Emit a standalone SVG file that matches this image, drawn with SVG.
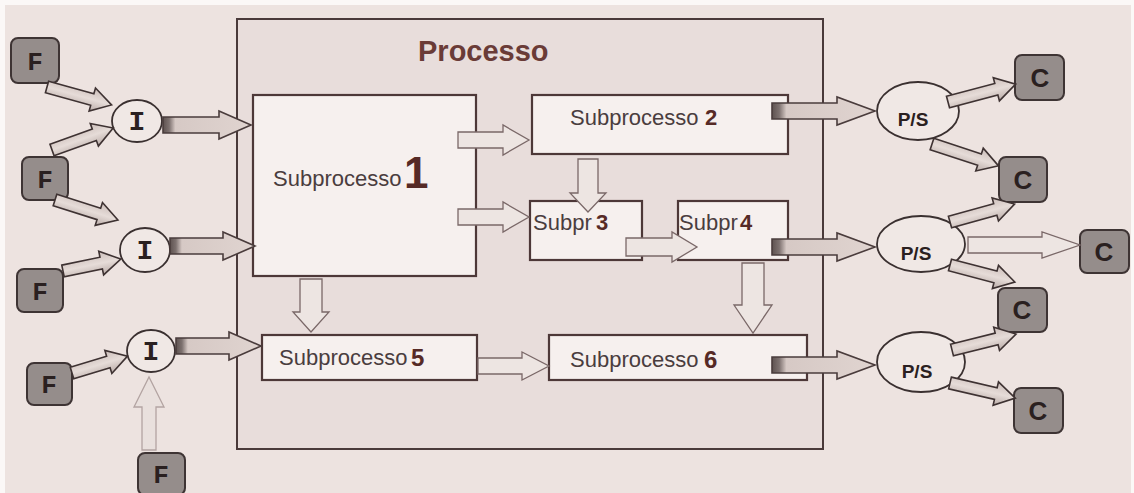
<svg xmlns="http://www.w3.org/2000/svg" width="1134" height="493" viewBox="0 0 1134 493">
<defs>
<linearGradient id="gTail" x1="0" y1="0" x2="1" y2="0">
<stop offset="0" stop-color="#5e5250"/>
<stop offset="0.07" stop-color="#7d716f"/>
<stop offset="0.14" stop-color="#d6c9c5"/>
<stop offset="1" stop-color="#e0d4d0"/>
</linearGradient>
<linearGradient id="gExt" x1="0" y1="0" x2="0" y2="1">
<stop offset="0" stop-color="#cbbdb9"/>
<stop offset="0.5" stop-color="#e6dcd8"/>
<stop offset="1" stop-color="#b9aba7"/>
</linearGradient>
</defs>
<style>
.bg{fill:#ede3e0}
.proc{fill:#e8dddb;stroke:#4a3a3a;stroke-width:2}
.box{fill:#f6f0ee;stroke:#4d3838;stroke-width:2.2}
.lbl{font-family:"Liberation Sans",Arial,sans-serif;font-size:22px;fill:#4a3d3e}
.num{font-family:"Liberation Sans",Arial,sans-serif;font-weight:bold;fill:#562a26}
.title{font-family:"Liberation Sans",Arial,sans-serif;font-weight:bold;font-size:29px;fill:#6a3b37}
.sq{fill:#958d8b;stroke:#3e3434;stroke-width:2}
.sqt{font-family:"Liberation Mono","Courier New",monospace;font-weight:bold;font-size:26px;fill:#2a2020;text-anchor:middle}
.ct{font-family:"Liberation Sans",Arial,sans-serif;font-weight:bold;font-size:26px;fill:#2a2020;text-anchor:middle}
.circ{fill:#f0e8e5;stroke:#3a3030;stroke-width:1.8}
.it{font-family:"Liberation Mono","Courier New",monospace;font-weight:bold;font-size:28px;fill:#2a2020;text-anchor:middle}
.pst{font-family:"Liberation Sans",Arial,sans-serif;font-weight:bold;font-size:19px;fill:#2a2020;text-anchor:middle}
.thick{fill:url(#gTail);stroke:#4a3c3c;stroke-width:1.6;stroke-linejoin:miter}
.light{fill:#ede5e2;stroke:#7a6868;stroke-width:1.3}
.faint{fill:#e9e0dd;stroke:#b3a4a2;stroke-width:1.3}
.ext{fill:url(#gExt);stroke:#3e3232;stroke-width:1.6}
</style>
<rect class="bg" x="0" y="0" width="1134" height="493"/>
<rect x="0" y="0" width="1134" height="5" fill="#fbf8f7"/>
<rect x="0" y="0" width="5" height="493" fill="#fbf8f7"/>
<rect x="1131" y="0" width="3" height="493" fill="#fbf8f7"/>

<g id="processo">
<rect class="proc" x="237" y="19" width="586" height="430"/>
<text class="title" x="418" y="61">Processo</text>
</g>

<g id="sub1">
<rect class="box" x="253" y="95" width="223" height="181"/>
<text class="lbl" x="273" y="186">Subprocesso</text>
<text class="num" x="404" y="188" font-size="44">1</text>
</g>
<g id="sub2">
<rect class="box" x="532" y="95" width="256" height="59"/>
<text class="lbl" x="570" y="125">Subprocesso</text>
<text class="num" x="705" y="125" font-size="22">2</text>
</g>
<g id="sub3">
<rect class="box" x="530" y="201" width="112" height="59"/>
<text class="lbl" x="533" y="230">Subpr</text>
<text class="num" x="596" y="230" font-size="22">3</text>
</g>
<g id="sub4">
<rect class="box" x="678" y="201" width="110" height="59"/>
<text class="lbl" x="679" y="230">Subpr</text>
<text class="num" x="740" y="230" font-size="22">4</text>
</g>
<g id="sub5">
<rect class="box" x="262" y="335" width="215" height="45"/>
<text class="lbl" x="279" y="365">Subprocesso</text>
<text class="num" x="411" y="366" font-size="24">5</text>
</g>
<g id="sub6">
<rect class="box" x="549" y="335" width="258" height="45"/>
<text class="lbl" x="570" y="367">Subprocesso</text>
<text class="num" x="704" y="368" font-size="24" fill="#2a1a1a">6</text>
</g>

<g id="f1"><rect class="sq" x="11" y="38" width="48" height="45" rx="7"/><text class="sqt" x="35" y="70">F</text></g>
<g id="f2"><rect class="sq" x="22" y="157" width="46" height="43" rx="7"/><text class="sqt" x="45" y="188">F</text></g>
<g id="f3"><rect class="sq" x="17" y="269" width="46" height="43" rx="7"/><text class="sqt" x="40" y="300">F</text></g>
<g id="f4"><rect class="sq" x="27" y="363" width="45" height="42" rx="7"/><text class="sqt" x="49" y="393">F</text></g>
<g id="f5"><rect class="sq" x="138" y="453" width="47" height="42" rx="7"/><text class="sqt" x="161" y="483">F</text></g>

<g id="i1"><ellipse class="circ" cx="137" cy="121" rx="25" ry="21"/><text class="it" x="137" y="130">I</text></g>
<g id="i2"><ellipse class="circ" cx="145" cy="250" rx="25" ry="22"/><text class="it" x="145" y="259">I</text></g>
<g id="i3"><ellipse class="circ" cx="151" cy="351" rx="24" ry="21"/><text class="it" x="151" y="360">I</text></g>

<g id="ps1"><ellipse class="circ" cx="918" cy="111" rx="41" ry="29"/><text class="pst" x="913" y="126">P/S</text></g>
<g id="ps2"><ellipse class="circ" cx="921" cy="244" rx="44" ry="28"/><text class="pst" x="916" y="260">P/S</text></g>
<g id="ps3"><ellipse class="circ" cx="921" cy="362" rx="44" ry="30"/><text class="pst" x="917" y="378">P/S</text></g>

<g id="c1"><rect class="sq" x="1015" y="55" width="49" height="45" rx="7"/><text class="ct" x="1040" y="87">C</text></g>
<g id="c2"><rect class="sq" x="999" y="157" width="48" height="45" rx="7"/><text class="ct" x="1023" y="189">C</text></g>
<g id="c3"><rect class="sq" x="1080" y="230" width="49" height="43" rx="7"/><text class="ct" x="1104" y="261">C</text></g>
<g id="c4"><rect class="sq" x="998" y="288" width="49" height="44" rx="7"/><text class="ct" x="1022" y="319">C</text></g>
<g id="c5"><rect class="sq" x="1014" y="388" width="49" height="45" rx="7"/><text class="ct" x="1038" y="420">C</text></g>

<g id="connectors">
<polygon class="ext" points="0,-6 47,-6 47,-12 67,0 47,12 47,6 0,6" transform="translate(47,87) rotate(15.5)"/>
<polygon class="ext" points="0,-6 45,-6 45,-12 65,0 45,12 45,6 0,6" transform="translate(52,150) rotate(-19.8)"/>
<polygon class="ext" points="0,-6 46,-6 46,-12 66,0 46,12 46,6 0,6" transform="translate(55,200) rotate(17.6)"/>
<polygon class="ext" points="0,-6 39,-6 39,-12 59,0 39,12 39,6 0,6" transform="translate(63,271) rotate(-11.7)"/>
<polygon class="ext" points="0,-6 38,-6 38,-12 58,0 38,12 38,6 0,6" transform="translate(72,373) rotate(-16.9)"/>
<polygon class="faint" points="0,-7 43,-7 43,-15 73,0 43,15 43,7 0,7" transform="translate(149,450) rotate(-90)"/>

<polygon class="thick" points="0,-8 56,-8 56,-14 88,0 56,14 56,8 0,8" transform="translate(163,125)"/>
<polygon class="thick" points="0,-8 53,-8 53,-14 85,0 53,14 53,8 0,8" transform="translate(170,246)"/>
<polygon class="thick" points="0,-8 53,-8 53,-14 85,0 53,14 53,8 0,8" transform="translate(176,346)"/>

<polygon class="light" points="0,-8 45,-8 45,-15 71,0 45,15 45,8 0,8" transform="translate(458,140)"/>
<polygon class="light" points="0,-8 45,-8 45,-15 71,0 45,15 45,8 0,8" transform="translate(458,217)"/>
<polygon class="light" points="0,-10 34,-10 34,-18 53,0 34,18 34,10 0,10" transform="translate(588,159) rotate(90)"/>
<polygon class="light" points="0,-9 46,-9 46,-15 71,0 46,15 46,9 0,9" transform="translate(626,247)"/>
<polygon class="light" points="0,-11 33,-11 33,-18 53,0 33,18 33,11 0,11" transform="translate(311,279) rotate(90)"/>
<polygon class="light" points="0,-11 42,-11 42,-19 70,0 42,19 42,11 0,11" transform="translate(753,263) rotate(90)"/>
<polygon class="light" points="0,-8 44,-8 44,-14 71,0 44,14 44,8 0,8" transform="translate(478,366)"/>

<polygon class="thick" points="0,-8 65,-8 65,-14 103,0 65,14 65,8 0,8" transform="translate(772,111)"/>
<polygon class="thick" points="0,-8 65,-8 65,-14 103,0 65,14 65,8 0,8" transform="translate(772,247)"/>
<polygon class="thick" points="0,-8 65,-8 65,-14 103,0 65,14 65,8 0,8" transform="translate(772,365)"/>

<polygon class="ext" points="0,-6 50,-6 50,-12 70,0 50,12 50,6 0,6" transform="translate(948,102) rotate(-14.8)"/>
<polygon class="ext" points="0,-6 50,-6 50,-12 70,0 50,12 50,6 0,6" transform="translate(932,144) rotate(18.2)"/>
<polygon class="ext" points="0,-6 47,-6 47,-12 67,0 47,12 47,6 0,6" transform="translate(950,222) rotate(-15.5)"/>
<polygon class="light" points="0,-8 74,-8 74,-13 112,0 74,13 74,8 0,8" transform="translate(968,245)"/>
<polygon class="ext" points="0,-6 47,-6 47,-12 67,0 47,12 47,6 0,6" transform="translate(950,265) rotate(14.7)"/>
<polygon class="ext" points="0,-6 46,-6 46,-12 66,0 46,12 46,6 0,6" transform="translate(952,350) rotate(-14)"/>
<polygon class="ext" points="0,-6 47,-6 47,-12 67,0 47,12 47,6 0,6" transform="translate(950,383) rotate(13)"/>
</g>
</svg>
